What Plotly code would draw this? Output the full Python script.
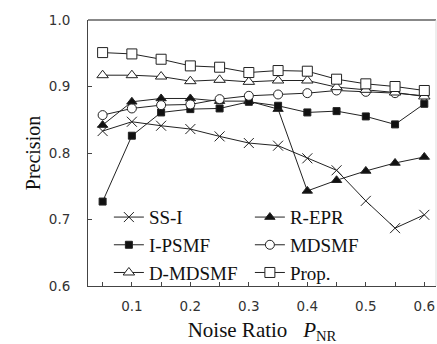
import plotly.graph_objects as go

noise = [0.05, 0.10, 0.15, 0.20, 0.25, 0.30, 0.35, 0.40, 0.45, 0.50, 0.55, 0.60]

ss_i    = [0.833, 0.847, 0.841, 0.836, 0.825, 0.815, 0.811, 0.792, 0.774, 0.728, 0.687, 0.707]
r_epr   = [0.842, 0.877, 0.882, 0.882, 0.878, 0.878, 0.866, 0.743, 0.759, 0.773, 0.785, 0.794]
i_psmf  = [0.727, 0.826, 0.861, 0.866, 0.867, 0.877, 0.871, 0.861, 0.863, 0.855, 0.843, 0.874]
mdsmf   = [0.857, 0.867, 0.872, 0.873, 0.881, 0.886, 0.888, 0.890, 0.894, 0.892, 0.890, 0.886]
d_mdsmf = [0.917, 0.917, 0.915, 0.908, 0.910, 0.907, 0.909, 0.909, 0.899, 0.895, 0.891, 0.885]
prop    = [0.951, 0.949, 0.941, 0.931, 0.929, 0.921, 0.924, 0.923, 0.911, 0.904, 0.900, 0.894]

series = [
    ("SS-I", ss_i, "x-thin", "#222", 10),
    ("R-EPR", r_epr, "triangle-up", "#111", 9),
    ("I-PSMF", i_psmf, "square", "#111", 7),
    ("MDSMF", mdsmf, "circle", "white", 9),
    ("D-MDSMF", d_mdsmf, "triangle-up", "white", 10),
    ("Prop.", prop, "square", "white", 10),
]

fig = go.Figure()
for name, ys, sym, fill, size in series:
    fig.add_trace(go.Scatter(
        x=noise, y=ys, name=name, mode="lines+markers",
        line=dict(color="#222", width=1),
        marker=dict(symbol=sym, size=size, color=fill,
                    line=dict(color="#222", width=1)),
    ))

fig.update_layout(
    width=437, height=344,
    margin=dict(l=88, r=1, t=20, b=58),
    plot_bgcolor="white", paper_bgcolor="white",
    showlegend=True,
    legend=dict(
        orientation="h", x=0.06, y=0.33, xanchor="left", yanchor="top",
        entrywidth=96, itemwidth=30, tracegroupgap=0,
        font=dict(family="Liberation Serif", size=19, color="#111"),
        bgcolor="rgba(0,0,0,0)",
    ),
    xaxis=dict(
        range=[0.025, 0.62], dtick=0.1, tick0=0, tickformat=".1f",
        ticks="inside", ticklen=4, tickcolor="#444",
        minor=dict(dtick=0.05, tick0=0, ticks="inside", ticklen=4, tickcolor="#444"),
        showline=True, linecolor="#444", linewidth=1, showgrid=False, zeroline=False,
        tickfont=dict(family="DejaVu Sans", size=13.5, color="#333"),
        ticklabelstandoff=8,
        title=dict(text="Noise Ratio&nbsp;&nbsp; <i>P</i><sub>NR</sub>",
                   font=dict(family="Liberation Serif", size=21, color="#111"),
                   standoff=11),
    ),
    yaxis=dict(
        range=[0.6, 1.0], dtick=0.1, tickformat=".1f",
        ticks="inside", ticklen=4, tickcolor="#444",
        showline=True, linecolor="#444", linewidth=1, showgrid=False, zeroline=False,
        tickfont=dict(family="DejaVu Sans", size=13.5, color="#333"),
        ticklabelstandoff=14,
        title=dict(text="Precision",
                   font=dict(family="Liberation Serif", size=20, color="#111"),
                   standoff=2),
    ),
    shapes=[
        dict(type="line", xref="paper", yref="paper", x0=0, x1=1, y0=1, y1=1,
             line=dict(color="#888", width=2)),
        dict(type="line", xref="paper", yref="paper", x0=1, x1=1, y0=0, y1=1,
             line=dict(color="#ddd", width=1)),
    ],
)

fig.write_html("out.html")
